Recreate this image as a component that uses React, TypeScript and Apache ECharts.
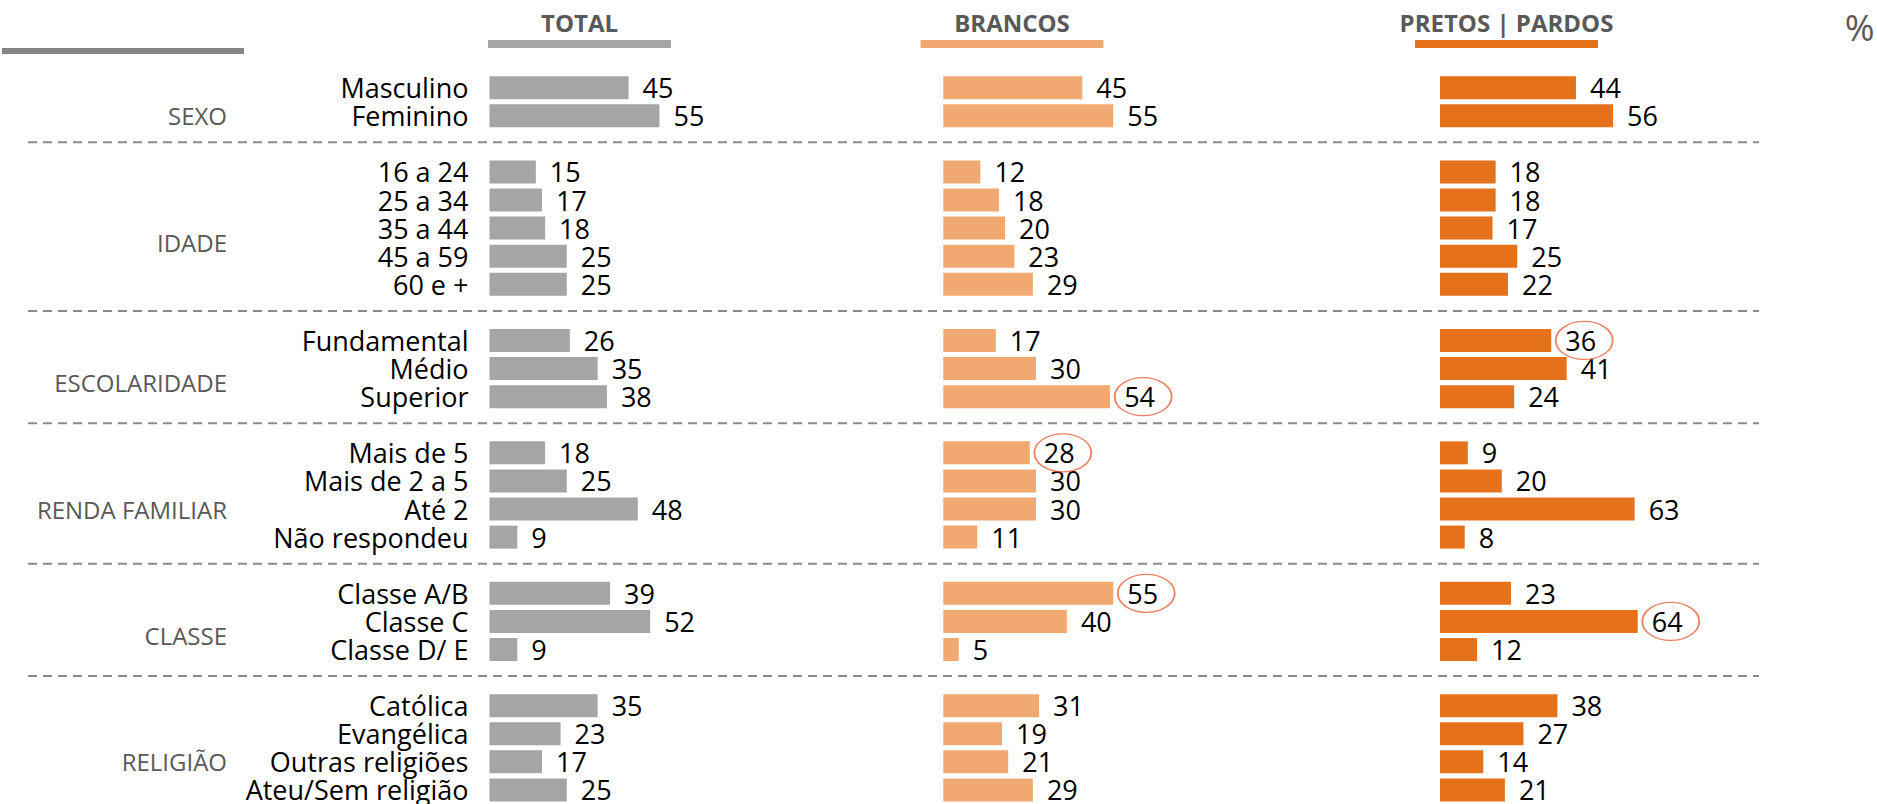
import React, { useEffect, useRef } from 'react';
import * as echarts from 'echarts';

const groupNames = ['SEXO', 'IDADE', 'ESCOLARIDADE', 'RENDA FAMILIAR', 'CLASSE', 'RELIGIÃO'];
const categories = [
  'Masculino', 'Feminino',
  '16 a 24', '25 a 34', '35 a 44', '45 a 59', '60 e +',
  'Fundamental', 'Médio', 'Superior',
  'Mais de 5', 'Mais de 2 a 5', 'Até 2', 'Não respondeu',
  'Classe A/B', 'Classe C', 'Classe D/ E',
  'Católica', 'Evangélica', 'Outras religiões', 'Ateu/Sem religião',
];
const categoryGroup = [0, 0, 1, 1, 1, 1, 1, 2, 2, 2, 3, 3, 3, 3, 4, 4, 4, 5, 5, 5, 5];
const totalValues = [45, 55, 15, 17, 18, 25, 25, 26, 35, 38, 18, 25, 48, 9, 39, 52, 9, 35, 23, 17, 25];
const brancosValues = [45, 55, 12, 18, 20, 23, 29, 17, 30, 54, 28, 30, 30, 11, 55, 40, 5, 31, 19, 21, 29];
const pretosValues = [44, 56, 18, 18, 17, 25, 22, 36, 41, 24, 9, 20, 63, 8, 23, 64, 12, 38, 27, 14, 21];
const columnTitles = ['TOTAL', 'BRANCOS', 'PRETOS | PARDOS'];
const totalHighlights: string[] = [];
const brancosHighlights = ['Superior', 'Mais de 5', 'Classe A/B'];
const pretosHighlights = ['Fundamental', 'Classe C'];
const unitLabel = '%';

const FONT = '"Open Sans", "Noto Sans", sans-serif';
const colors = ['#A5A5A5', '#F1A972', '#E5711B'];
const gridLefts = [489.5, 943.3, 1440];
const headerCenters = [579.5, 1012, 1506.5];
const ELLIPSE = 'path://M0,50 A50,50 0 1,1 100,50 A50,50 0 1,1 0,50 Z';

type Row = { name: string; idx: number | null };

function buildRows(): Row[] {
  const rows: Row[] = [];
  categories.forEach((c, i) => {
    if (i > 0 && categoryGroup[i] !== categoryGroup[i - 1]) {
      rows.push({ name: '__sep' + categoryGroup[i], idx: null });
    }
    rows.push({ name: c, idx: i });
  });
  return rows;
}

export default function App() {
  const ref = useRef<HTMLDivElement>(null);

  useEffect(() => {
    if (!ref.current) return;
    const chart = echarts.init(ref.current, undefined, { renderer: 'svg' });
    const rows = buildRows();
    const rowNames = rows.map((r) => r.name);
    const valueSets = [totalValues, brancosValues, pretosValues];
    const highlightSets = [totalHighlights, brancosHighlights, pretosHighlights];

    const grids = gridLefts.map((left) => ({ left, top: 73.6, width: 309, height: 731.9 }));
    const xAxes = gridLefts.map((_, i) => ({
      type: 'value', gridIndex: i, min: 0, max: 100, show: false,
    }));
    const yAxes = gridLefts.map((_, i) => ({
      type: 'category', gridIndex: i, inverse: true, data: rowNames,
      axisLine: { show: false }, axisTick: { show: false }, splitLine: { show: false },
      axisLabel: {
        show: i === 0, interval: 0, margin: 21, fontSize: 27, lineHeight: 24,
        fontFamily: FONT, color: '#000',
        formatter: (v: string) => (v.startsWith('__sep') ? '' : v),
      },
    }));

    const series: any[] = [];
    valueSets.forEach((vals, i) => {
      series.push({
        type: 'bar', xAxisIndex: i, yAxisIndex: i, barWidth: 23,
        itemStyle: { color: colors[i] },
        label: {
          show: true, position: 'right', distance: 14, fontSize: 27, lineHeight: 24,
          fontFamily: FONT, color: '#000',
        },
        silent: true,
        data: rows.map((r) => (r.idx === null ? '-' : vals[r.idx])),
      });
      series.push({
        type: 'scatter', xAxisIndex: i, yAxisIndex: i, symbol: ELLIPSE,
        symbolSize: [57, 38], symbolOffset: [33, 0], z: 5, silent: true,
        itemStyle: { color: 'rgba(0,0,0,0)', borderColor: '#E9603A', borderWidth: 1.5 },
        data: highlightSets[i].map((name) => [vals[categories.indexOf(name)], name]),
      });
    });

    chart.setOption({
      animation: false,
      grid: grids,
      xAxis: xAxes,
      yAxis: yAxes,
      series,
    });

    const y0 = chart.convertToPixel({ yAxisIndex: 0 }, 0) as number;
    const y1 = chart.convertToPixel({ yAxisIndex: 0 }, 1) as number;
    const pitch = y1 - y0;
    const yAt = (f: number) => y0 + f * pitch;

    const graphic: any[] = [];
    graphic.push({
      type: 'rect', shape: { x: 2, y: 48, width: 242, height: 6 }, style: { fill: '#858585' },
    });
    columnTitles.forEach((t, i) => {
      graphic.push({
        type: 'text', x: headerCenters[i], y: 22,
        style: {
          text: t, fontSize: 24, fontWeight: 'bold', fontFamily: FONT, fill: '#595959',
          align: 'center', verticalAlign: 'middle',
        },
      });
      graphic.push({
        type: 'rect', shape: { x: headerCenters[i] - 91.5, y: 40, width: 183, height: 8 },
        style: { fill: colors[i] },
      });
    });
    graphic.push({
      type: 'text', x: 1859.5, y: 27,
      style: {
        text: unitLabel, fontSize: 36, fontFamily: FONT, fill: '#595959',
        align: 'center', verticalAlign: 'middle',
      },
    });
    groupNames.forEach((g, gi) => {
      const rIdx = rows
        .map((r, k) => (r.idx !== null && categoryGroup[r.idx] === gi ? k : -1))
        .filter((k) => k >= 0);
      const first = rIdx[0];
      const last = rIdx[rIdx.length - 1];
      graphic.push({
        type: 'text', x: 227, y: yAt((first + last) / 2 + 0.5),
        style: {
          text: g, fontSize: 24, fontFamily: FONT, fill: '#595959',
          align: 'right', verticalAlign: 'middle',
        },
      });
      if (gi > 0) {
        const ys = yAt(first - 1) - 1.5;
        graphic.push({
          type: 'line', shape: { x1: 28, y1: ys, x2: 1759, y2: ys },
          style: { stroke: '#8A8A8A', lineWidth: 2, lineDash: [9, 6] },
        });
      }
    });
    chart.setOption({ graphic });

    return () => chart.dispose();
  }, []);

  return (
    <div
      ref={ref}
      style={{ position: 'absolute', left: 0, top: 0, width: 1877, height: 804, background: '#fff' }}
    />
  );
}
